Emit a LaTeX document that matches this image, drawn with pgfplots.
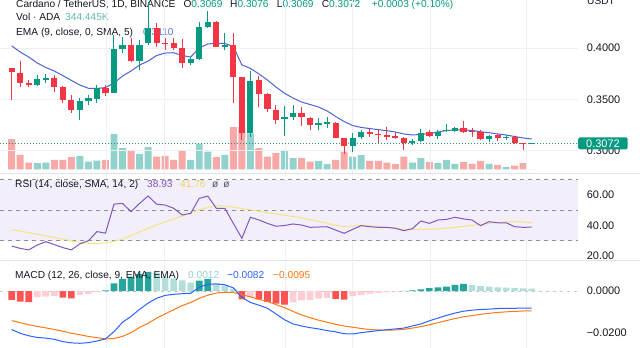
\documentclass[border=0pt]{standalone}
\usepackage{fontspec}
\setmainfont{Liberation Sans}
\usepackage{pgfplots}
\usepackage{pgfplotstable}
\pgfplotsset{compat=1.18}

\definecolor{txt}{RGB}{19,23,34}
\definecolor{upc}{RGB}{8,153,129}
\definecolor{dnc}{RGB}{242,54,69}
\definecolor{volup}{RGB}{146,210,204}
\definecolor{voldn}{RGB}{247,169,167}
\definecolor{emac}{RGB}{76,99,210}
\definecolor{rsic}{RGB}{126,87,194}
\definecolor{rsima}{RGB}{245,227,130}
\definecolor{rsibg}{RGB}{243,239,250}
\definecolor{bandc}{RGB}{140,143,152}
\definecolor{gridc}{RGB}{238,240,245}
\definecolor{sepc}{RGB}{224,227,235}
\definecolor{macdc}{RGB}{41,98,255}
\definecolor{sigc}{RGB}{255,120,20}
\definecolor{hdg}{RGB}{38,166,154}
\definecolor{hlg}{RGB}{178,223,219}
\definecolor{hlr}{RGB}{255,205,210}
\definecolor{hdr}{RGB}{255,82,82}
\definecolor{voltxt}{RGB}{95,185,175}
\definecolor{emat}{RGB}{80,110,225}
\definecolor{rsimat}{RGB}{238,212,90}
\definecolor{histt}{RGB}{150,210,205}

\newcommand\lgd{\fontsize{10.2}{12}\selectfont}
\newcommand\tck{\fontsize{11}{13}\selectfont}

\pgfplotsset{
  only up/.style={restrict expr to domain={\thisrow{u}}{0.5:1.5}},
  only down/.style={restrict expr to domain={\thisrow{u}}{-0.5:0.5}},
  hk0/.style={restrict expr to domain={\thisrow{k}}{-0.5:0.5}},
  hk1/.style={restrict expr to domain={\thisrow{k}}{0.5:1.5}},
  hk2/.style={restrict expr to domain={\thisrow{k}}{1.5:2.5}},
  hk3/.style={restrict expr to domain={\thisrow{k}}{2.5:3.5}},
  pane/.style={
    scale only axis, width=578bp, xmin=-0.372, xmax=67.43,
    axis line style={draw=none}, major tick length=0pt,
    xtick={12.06,18.92,33.06,40.92,50.07,61.33}, xticklabels={},
    xmajorgrids, grid style={color=gridc, line width=0.8bp},
    yticklabel pos=right, scaled y ticks=false,
    y tick label style={font=\tck, text=txt, anchor=west, xshift=5.3bp},
    clip=false,
  },
  wick/.style={draw=none, no markers, forget plot,
    error bars/y dir=plus, error bars/y explicit, error bars/error mark=none,
    error bars/error bar style={draw=#1, line width=1bp, solid}},
  body/.style={draw=none, no markers, forget plot,
    error bars/y dir=plus, error bars/y explicit, error bars/error mark=none,
    error bars/error bar style={draw=#1, line width=6.2bp, solid}},
}

\pgfplotstableread{
i o h l c v u e
1 0.3802 0.3810 0.3494 0.3763 121 0 0.4021
2 0.3760 0.3876 0.3617 0.3662 58 0 0.3961
3 0.3662 0.3689 0.3623 0.3640 27 0 0.3912
4 0.3640 0.3737 0.3630 0.3695 25 1 0.3854
5 0.3689 0.3747 0.3662 0.3705 27 1 0.3810
6 0.3711 0.3737 0.3575 0.3617 38 0 0.3776
7 0.3617 0.3630 0.3467 0.3494 38 0 0.3732
8 0.3494 0.3542 0.3370 0.3396 49 0 0.3684
9 0.3396 0.3510 0.3299 0.3487 54 1 0.3640
10 0.3487 0.3542 0.3445 0.3510 31 1 0.3608
11 0.3503 0.3640 0.3467 0.3608 35 1 0.3606
12 0.3608 0.3640 0.3536 0.3565 38 0 0.3615
13 0.3565 0.4127 0.3560 0.3987 141 1 0.3659
14 0.3990 0.4110 0.3948 0.4029 85 1 0.3727
15 0.4029 0.4094 0.3867 0.3876 75 0 0.3776
16 0.3876 0.4078 0.3781 0.4029 62 1 0.3834
17 0.4046 0.4450 0.4030 0.4192 89 1 0.3873
18 0.4192 0.4243 0.4013 0.4046 51 0 0.3927
19 0.4051 0.4097 0.3981 0.4039 54 0 0.3951
20 0.4051 0.4097 0.3981 0.4003 38 0 0.3954
21 0.3997 0.4088 0.3805 0.3851 74 0 0.3927
22 0.3851 0.3915 0.3835 0.3890 38 1 0.3912
23 0.3890 0.4256 0.3883 0.4207 102 1 0.4000
24 0.4207 0.4360 0.4192 0.4256 71 1 0.4039
25 0.4256 0.4266 0.4013 0.4013 49 0 0.4046
26 0.4013 0.4146 0.3981 0.4029 58 1 0.4044
27 0.4029 0.4149 0.3467 0.3721 169 0 0.4015
28 0.3715 0.3715 0.3104 0.3175 169 0 0.3835
29 0.3175 0.3779 0.3136 0.3682 144 1 0.3802
30 0.3689 0.3727 0.3423 0.3552 85 0 0.3747
31 0.3552 0.3559 0.3380 0.3403 51 0 0.3688
32 0.3396 0.3445 0.3260 0.3299 65 0 0.3620
33 0.3306 0.3435 0.3143 0.3331 78 1 0.3559
34 0.3326 0.3445 0.3299 0.3370 45 1 0.3513
35 0.3370 0.3423 0.3241 0.3326 45 0 0.3474
36 0.3316 0.3331 0.3202 0.3250 31 0 0.3450
37 0.3253 0.3316 0.3202 0.3267 34 1 0.3425
38 0.3262 0.3326 0.3218 0.3279 21 1 0.3387
39 0.3273 0.3282 0.3121 0.3127 38 0 0.3333
40 0.3121 0.3124 0.2968 0.3049 71 0 0.3284
41 0.3049 0.3170 0.2990 0.3127 51 1 0.3245
42 0.3131 0.3202 0.3114 0.3185 57 1 0.3226
43 0.3185 0.3208 0.3131 0.3163 34 0 0.3216
44 0.3163 0.3211 0.3078 0.3150 34 0 0.3205
45 0.3150 0.3228 0.3104 0.3133 27 0 0.3195
46 0.3140 0.3185 0.3111 0.3121 21 0 0.3182
47 0.3124 0.3131 0.3007 0.3072 51 0 0.3163
48 0.3072 0.3111 0.3055 0.3094 27 1 0.3153
49 0.3097 0.3208 0.3088 0.3175 45 1 0.3158
50 0.3179 0.3202 0.3136 0.3143 29 0 0.3168
51 0.3143 0.3202 0.3111 0.3185 25 1 0.3182
52 0.3189 0.3260 0.3182 0.3199 38 1 0.3197
53 0.3195 0.3234 0.3185 0.3218 22 1 0.3202
54 0.3218 0.3292 0.3169 0.3185 29 0 0.3202
55 0.3190 0.3218 0.3136 0.3182 22 0 0.3197
56 0.3185 0.3202 0.3104 0.3111 34 0 0.3185
57 0.3111 0.3153 0.3088 0.3143 22 1 0.3175
58 0.3150 0.3163 0.3094 0.3121 18 0 0.3163
59 0.3121 0.3153 0.3104 0.3136 9 1 0.3153
60 0.3131 0.3143 0.3065 0.3078 15 0 0.3138
61 0.3076 0.3078 0.3007 0.3069 25 0 0.3124
62 0.3069 0.3076 0.3069 0.3072 0.344 1 0.3114
}\ohlcv

\pgfplotstableread{
i r m
1 26.5 37.2
2 25.0 36.3
3 24.0 35.3
4 27.2 34.3
5 29.4 33.2
6 27.5 32.1
7 25.5 31.0
8 24.0 30.0
9 28.0 28.8
10 30.0 28.3
11 36.0 28.3
12 35.0 28.5
13 54.0 29.7
14 54.5 31.1
15 49.1 33.5
16 54.5 35.8
17 59.3 38.1
18 54.0 40.4
19 53.4 42.4
20 51.3 44.3
21 46.9 46.2
22 48.0 48.3
23 57.8 50.4
24 59.3 51.8
25 51.3 52.8
26 51.3 52.8
27 41.4 52.0
28 31.6 51.2
29 45.4 50.3
30 43.6 49.4
31 41.4 48.4
32 39.5 47.6
33 40.0 46.7
34 41.0 45.9
35 40.3 45.0
36 38.8 43.8
37 39.0 42.7
38 39.2 41.4
39 37.0 40.2
40 34.9 39.3
41 37.5 39.6
42 39.9 40.2
43 39.2 39.8
44 38.8 39.3
45 38.8 38.8
46 38.2 38.2
47 36.6 37.5
48 37.9 37.5
49 43.0 37.5
50 41.4 37.5
51 43.6 37.7
52 44.0 38.3
53 45.4 38.8
54 44.3 39.5
55 43.6 40.1
56 39.9 40.7
57 42.5 41.4
58 41.8 41.9
59 41.8 42.4
60 39.2 42.5
61 38.8 42.3
62 38.93 41.76
}\rsidata

\pgfplotstableread{
i m s h k
1 -0.0185 -0.0142 -0.0043 0
2 -0.0203 -0.0152 -0.0051 0
3 -0.0215 -0.0162 -0.0053 0
4 -0.0223 -0.0170 -0.0029 1
5 -0.0226 -0.0177 -0.0027 1
6 -0.0232 -0.0185 -0.0025 1
7 -0.0243 -0.0193 -0.0032 0
8 -0.0249 -0.0203 -0.0035 0
9 -0.0251 -0.0210 -0.0018 1
10 -0.0248 -0.0218 -0.0014 1
11 -0.0240 -0.0224 -0.0005 1
12 -0.0230 -0.0230 0.0003 3
13 -0.0195 -0.0228 0.0037 3
14 -0.0150 -0.0218 0.0058 3
15 -0.0122 -0.0200 0.0069 3
16 -0.0088 -0.0175 0.0082 3
17 -0.0058 -0.0155 0.0092 3
18 -0.0035 -0.0130 0.0088 2
19 -0.0021 -0.0110 0.0069 2
20 -0.0016 -0.0090 0.0061 2
21 -0.0013 -0.0070 0.0051 2
22 -0.0011 -0.0055 0.0040 2
23 0.0018 -0.0035 0.0050 3
24 0.0032 -0.0020 0.0058 3
25 0.0034 -0.0010 0.0037 2
26 0.0030 -0.0006 0.0026 2
27 0.0015 -0.0007 0.0010 2
28 -0.0030 -0.0018 -0.0040 0
29 -0.0055 -0.0028 -0.0030 1
30 -0.0068 -0.0040 -0.0040 0
31 -0.0083 -0.0050 -0.0052 0
32 -0.0110 -0.0065 -0.0060 0
33 -0.0138 -0.0080 -0.0065 0
34 -0.0158 -0.0098 -0.0055 1
35 -0.0168 -0.0115 -0.0045 1
36 -0.0176 -0.0128 -0.0042 1
37 -0.0182 -0.0140 -0.0037 1
38 -0.0190 -0.0150 -0.0033 1
39 -0.0196 -0.0160 -0.0038 0
40 -0.0205 -0.0168 -0.0041 0
41 -0.0206 -0.0174 -0.0025 1
42 -0.0200 -0.0180 -0.0018 1
43 -0.0195 -0.0185 -0.0013 1
44 -0.0190 -0.0187 -0.0010 1
45 -0.0186 -0.0188 -0.0005 1
46 -0.0182 -0.0187 -0.0002 1
47 -0.0178 -0.0184 0.0001 3
48 -0.0168 -0.0178 0.0003 3
49 -0.0158 -0.0171 0.0008 3
50 -0.0143 -0.0162 0.0014 3
51 -0.0130 -0.0152 0.0018 3
52 -0.0117 -0.0142 0.0021 3
53 -0.0106 -0.0132 0.0029 3
54 -0.0097 -0.0124 0.0034 3
55 -0.0092 -0.0118 0.0029 2
56 -0.0089 -0.0112 0.0024 2
57 -0.0087 -0.0107 0.0021 2
58 -0.0084 -0.0103 0.0018 2
59 -0.0083 -0.0100 0.0016 2
60 -0.0083 -0.0098 0.0014 2
61 -0.0082 -0.0096 0.0013 2
62 -0.0082 -0.0095 0.0012 2
}\macddata

\begin{document}
\begin{tikzpicture}
\useasboundingbox (0,0) rectangle (640bp,348bp);
\draw[sepc, line width=1bp] (0,174.5bp) -- (640bp,174.5bp);
\draw[sepc, line width=1bp] (0,87bp) -- (640bp,87bp);

% ---------- RSI pane ----------
\begin{axis}[pane, at={(0,88bp)}, anchor=south west, height=86bp,
  ymin=17.38, ymax=73.77, ytick={20,40,60}, yticklabels={20.00,40.00,60.00}]
  \addplot[fill=rsibg, draw=none, forget plot] coordinates {(-0.372,30) (67.43,30) (67.43,70) (-0.372,70)};
  \addplot[bandc, line width=0.8bp, dash pattern=on 4bp off 4bp, forget plot] coordinates {(-0.372,70) (67.43,70)};
  \addplot[bandc, line width=0.8bp, dash pattern=on 4bp off 4bp, forget plot] coordinates {(-0.372,50) (67.43,50)};
  \addplot[bandc, line width=0.8bp, dash pattern=on 4bp off 4bp, forget plot] coordinates {(-0.372,30) (67.43,30)};
  \addplot[rsima, line width=1bp, no marks] table[x=i, y=m] {\rsidata};
  \addplot[rsic, line width=1bp, no marks] table[x=i, y=r] {\rsidata};
\end{axis}

% ---------- MACD pane ----------
\begin{axis}[pane, at={(0,0)}, anchor=south west, height=86bp,
  ymin=-0.02736, ymax=0.01392, ytick={-0.02,0}, yticklabels={−0.0200,0.0000}]
  \addplot[color=gray!45, line width=0.8bp, dash pattern=on 3bp off 4bp, forget plot] coordinates {(-0.372,0) (67.43,0)};
  \addplot[hk0, ybar, bar width=0.78, bar shift=0pt, fill=hdr, draw=none] table[x=i, y=h] {\macddata};
  \addplot[hk1, ybar, bar width=0.78, bar shift=0pt, fill=hlr, draw=none] table[x=i, y=h] {\macddata};
  \addplot[hk2, ybar, bar width=0.78, bar shift=0pt, fill=hlg, draw=none] table[x=i, y=h] {\macddata};
  \addplot[hk3, ybar, bar width=0.78, bar shift=0pt, fill=hdg, draw=none] table[x=i, y=h] {\macddata};
  \addplot[sigc, line width=1bp, no marks] table[x=i, y=s] {\macddata};
  \addplot[macdc, line width=1bp, no marks] table[x=i, y=m] {\macddata};
\end{axis}

% ---------- legends ----------
\node[anchor=base west, inner sep=0, font=\lgd, text=txt] at (16bp,340.5bp) {Cardano / TetherUS, 1D, BINANCE};
\node[anchor=base west, inner sep=0, font=\lgd, text=txt] at (183.3bp,340.5bp) {O\textcolor{upc}{0.3069}};
\node[anchor=base west, inner sep=0, font=\lgd, text=txt] at (230bp,340.5bp) {H\textcolor{upc}{0.3076}};
\node[anchor=base west, inner sep=0, font=\lgd, text=txt] at (276.7bp,340.5bp) {L\textcolor{upc}{0.3069}};
\node[anchor=base west, inner sep=0, font=\lgd, text=txt] at (321.7bp,340.5bp) {C\textcolor{upc}{0.3072}};
\node[anchor=base west, inner sep=0, font=\lgd, text=upc] at (371.7bp,340.5bp) {+0.0003 (+0.10\%)};
\node[anchor=base west, inner sep=0, font=\lgd, text=txt] at (587bp,343bp) {USDT};
\node[anchor=base west, inner sep=0, font=\lgd, text=txt] at (16bp,327.3bp) {Vol · ADA};
\node[anchor=base west, inner sep=0, font=\lgd, text=voltxt] at (65bp,327.3bp) {344.445K};
\node[anchor=base west, inner sep=0, font=\lgd, text=txt] at (16bp,312.3bp) {EMA (9, close, 0, SMA, 5)};
\node[anchor=base west, inner sep=0, font=\lgd, text=emat] at (143bp,312.3bp) {0.3110};
\node[anchor=base west, inner sep=0, font=\lgd, text=txt] at (15bp,160.3bp) {RSI (14, close, SMA, 14, 2)};
\node[anchor=base west, inner sep=0, font=\lgd, text=rsic] at (147bp,160.3bp) {38.93};
\node[anchor=base west, inner sep=0, font=\lgd, text=rsimat] at (180bp,160.3bp) {41.76};
\node[anchor=base west, inner sep=0, font=\lgd, text=txt!75] at (212bp,160.3bp) {ø\hspace{5bp}ø};
\node[anchor=base west, inner sep=0, font=\lgd, text=txt] at (15bp,69bp) {MACD (12, 26, close, 9, EMA, EMA)};
\node[anchor=base west, inner sep=0, font=\lgd, text=histt] at (188bp,69bp) {0.0012};
\node[anchor=base west, inner sep=0, font=\lgd, text=macdc] at (227bp,69bp) {−0.0082};
\node[anchor=base west, inner sep=0, font=\lgd, text=sigc] at (273bp,69bp) {−0.0095};

% ---------- volume ----------
\begin{axis}[pane, at={(0,175bp)}, anchor=south west, height=173bp,
  ymin=-14, ymax=678, ytick=\empty, xmajorgrids=false]
  \addplot[only down, ybar, bar width=0.82, bar shift=0pt, fill=voldn, draw=none] table[x=i, y=v] {\ohlcv};
  \addplot[only up, ybar, bar width=0.82, bar shift=0pt, fill=volup, draw=none] table[x=i, y=v] {\ohlcv};
\end{axis}

% ---------- price ----------
\begin{axis}[pane, at={(0,175bp)}, anchor=south west, height=173bp,
  ymin=0.27829, ymax=0.44674, ytick={0.30,0.35,0.40}, yticklabels={0.3000,0.3500,0.4000}, ymajorgrids]
  \addplot[upc!70!gray, line width=0.8bp, dash pattern=on 1bp off 2bp, forget plot] coordinates {(-0.372,0.3072) (67.43,0.3072)};
  \addplot[emac, line width=1bp, no marks] table[x=i, y=e] {\ohlcv};
  \addplot[only up, wick=upc] table[x=i, y=l, y error expr=\thisrow{h}-\thisrow{l}] {\ohlcv};
  \addplot[only down, wick=dnc] table[x=i, y=l, y error expr=\thisrow{h}-\thisrow{l}] {\ohlcv};
  \addplot[only up, body=upc] table[x=i, y expr={min(\thisrow{o},\thisrow{c})}, y error expr={max(abs(\thisrow{c}-\thisrow{o}),0.0009)}] {\ohlcv};
  \addplot[only down, body=dnc] table[x=i, y expr={min(\thisrow{o},\thisrow{c})}, y error expr={max(abs(\thisrow{c}-\thisrow{o}),0.0009)}] {\ohlcv};
  \node[fill=upc, text=white, font=\tck, anchor=west, inner xsep=8bp, inner ysep=0bp, minimum height=12bp, rounded corners=1.5bp] at (axis cs:67.43,0.3072) {0.3072};
\end{axis}
\end{tikzpicture}
\end{document}
